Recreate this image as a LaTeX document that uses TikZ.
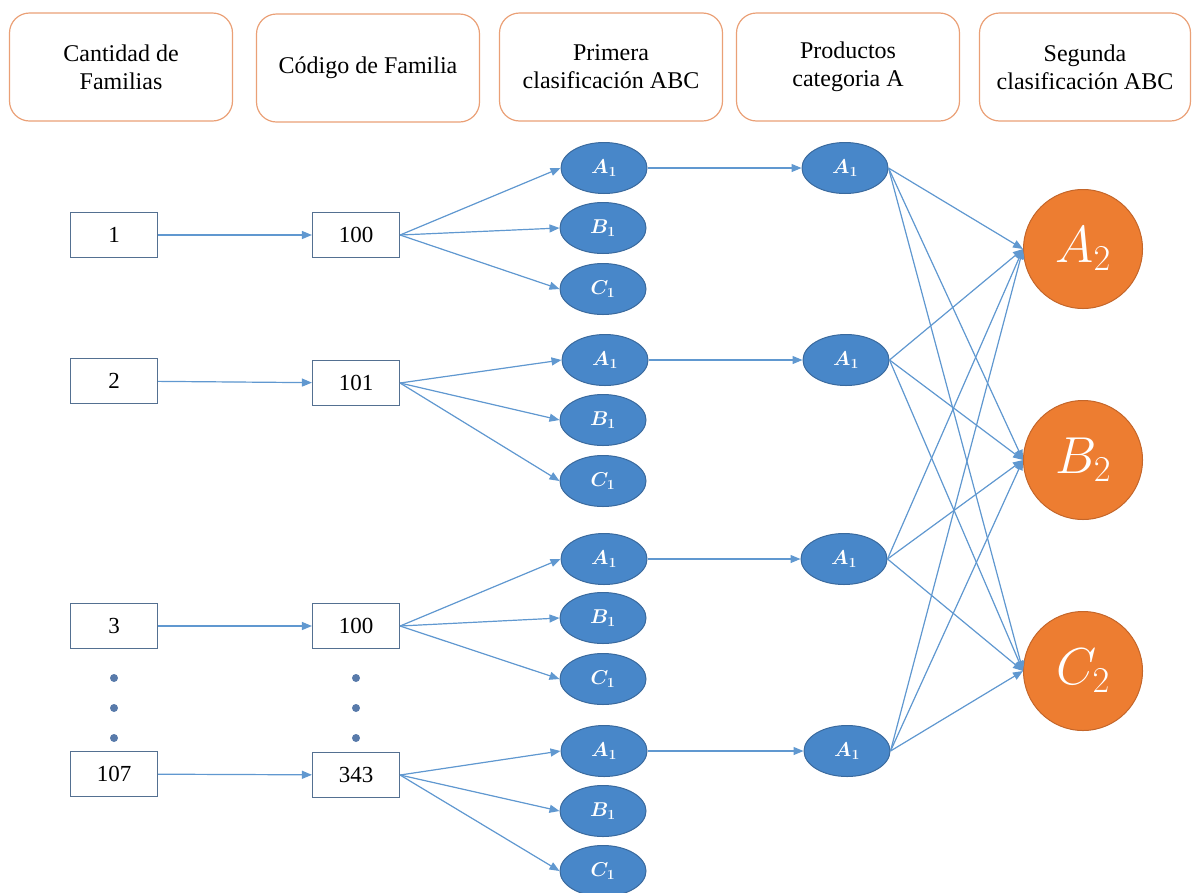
\RequirePackage{fix-cm}
\documentclass[tikz,border=0pt]{standalone}
\usepackage{fontspec}
\setmainfont{Liberation Serif}
\usepackage{tikz}
\usetikzlibrary{shapes,arrows.meta,positioning}
\definecolor{hdorange}{RGB}{234,160,118}
\definecolor{boxline}{RGB}{84,112,145}
\definecolor{lnblue}{RGB}{96,152,208}
\definecolor{elblue}{RGB}{72,135,201}
\definecolor{elline}{RGB}{58,106,158}
\definecolor{cirorange}{RGB}{237,125,49}
\definecolor{cirline}{RGB}{196,102,42}
\definecolor{dotblue}{RGB}{88,122,170}
\tikzstyle{head}=[rectangle,draw=hdorange,line width=1.2pt,rounded corners=20pt,align=center,minimum width=223pt,minimum height=108pt,font=\fontsize{24}{28}\selectfont]
\tikzstyle{num}=[rectangle,draw=boxline,line width=1.1pt,fill=white,minimum width=87pt,minimum height=45pt,inner sep=0pt,font=\fontsize{23}{26}\selectfont]
\tikzstyle{cls}=[ellipse,draw=elline,line width=1pt,fill=elblue,minimum width=86pt,minimum height=51pt,inner sep=0pt,text=white,font=\fontsize{20}{22}\selectfont\boldmath]
\tikzstyle{big}=[circle,draw=cirline,line width=1pt,fill=cirorange,minimum size=119pt,inner sep=0pt,text=white,font=\fontsize{52}{58}\selectfont]
\tikzstyle{arr}=[-{Triangle[length=10pt,width=8pt]},draw=lnblue,fill=lnblue,line width=1.2pt]

\begin{document}
\begin{tikzpicture}[x=1pt,y=-1pt]
\useasboundingbox (0,0) rectangle (1193,892);
% column headers
\node (H1) [head] at (121,67) {Cantidad de\\Familias};
\node (H2) [head] at (368,68) {Código de Familia};
\node (H3) [head] at (611,67) {Primera\\clasificación ABC};
\node (H4) [head] at (848,67) {Productos\\categoria A};
\node (H5) [head, minimum width=211pt] at (1085,67) {Segunda\\clasificación ABC};
% families and codes
\node (F1) [num] at (114,235) {1};
\node (F2) [num] at (114,381) {2};
\node (F3) [num] at (114,626) {3};
\node (F4) [num] at (114,774) {107};
\node (K1) [num] at (356,235) {100};
\node (K2) [num] at (356,383) {101};
\node (K3) [num] at (356,626) {100};
\node (K4) [num] at (356,775) {343};
\fill [dotblue] (114,678) circle (4pt) (114,708) circle (4pt) (114,738) circle (4pt);
\fill [dotblue] (356,678) circle (4pt) (356,708) circle (4pt) (356,738) circle (4pt);
% first ABC classification
\node (PA1) [cls] at (604,168) {$A_1$};
\node (PB1) [cls] at (603,228) {$B_1$};
\node (PC1) [cls] at (603,289) {$C_1$};
\node (PA2) [cls] at (605,360) {$A_1$};
\node (PB2) [cls] at (603,420) {$B_1$};
\node (PC2) [cls] at (603,481) {$C_1$};
\node (PA3) [cls] at (604,559) {$A_1$};
\node (PB3) [cls] at (603,618) {$B_1$};
\node (PC3) [cls] at (603,679) {$C_1$};
\node (PA4) [cls] at (604,751) {$A_1$};
\node (PB4) [cls] at (603,811) {$B_1$};
\node (PC4) [cls] at (603,871) {$C_1$};
% category A products
\node (QA1) [cls] at (845,168) {$A_1$};
\node (QA2) [cls] at (846,360) {$A_1$};
\node (QA3) [cls] at (844,559) {$A_1$};
\node (QA4) [cls] at (847,751) {$A_1$};
% second ABC classification
\node (SA) [big] at (1083,249) {$A_2$};
\node (SB) [big] at (1083,460) {$B_2$};
\node (SC) [big] at (1083,671) {$C_2$};
% connectors
\draw [arr] (F1) -- (K1);
\draw [arr] (F2) -- (K2);
\draw [arr] (F3) -- (K3);
\draw [arr] (F4) -- (K4);
\draw [arr] (K1.east) -- (PA1.west);
\draw [arr] (K1.east) -- (PB1.west);
\draw [arr] (K1.east) -- (PC1.west);
\draw [arr] (K2.east) -- (PA2.west);
\draw [arr] (K2.east) -- (PB2.west);
\draw [arr] (K2.east) -- (PC2.west);
\draw [arr] (K3.east) -- (PA3.west);
\draw [arr] (K3.east) -- (PB3.west);
\draw [arr] (K3.east) -- (PC3.west);
\draw [arr] (K4.east) -- (PA4.west);
\draw [arr] (K4.east) -- (PB4.west);
\draw [arr] (K4.east) -- (PC4.west);
\draw [arr] (PA1) -- (QA1);
\draw [arr] (PA2) -- (QA2);
\draw [arr] (PA3) -- (QA3);
\draw [arr] (PA4) -- (QA4);
\draw [arr] (QA1.east) -- (SA.west);
\draw [arr] (QA1.east) -- (SB.west);
\draw [arr] (QA1.east) -- (SC.west);
\draw [arr] (QA2.east) -- (SA.west);
\draw [arr] (QA2.east) -- (SB.west);
\draw [arr] (QA2.east) -- (SC.west);
\draw [arr] (QA3.east) -- (SA.west);
\draw [arr] (QA3.east) -- (SB.west);
\draw [arr] (QA3.east) -- (SC.west);
\draw [arr] (QA4.east) -- (SA.west);
\draw [arr] (QA4.east) -- (SB.west);
\draw [arr] (QA4.east) -- (SC.west);
\end{tikzpicture}
\end{document}
